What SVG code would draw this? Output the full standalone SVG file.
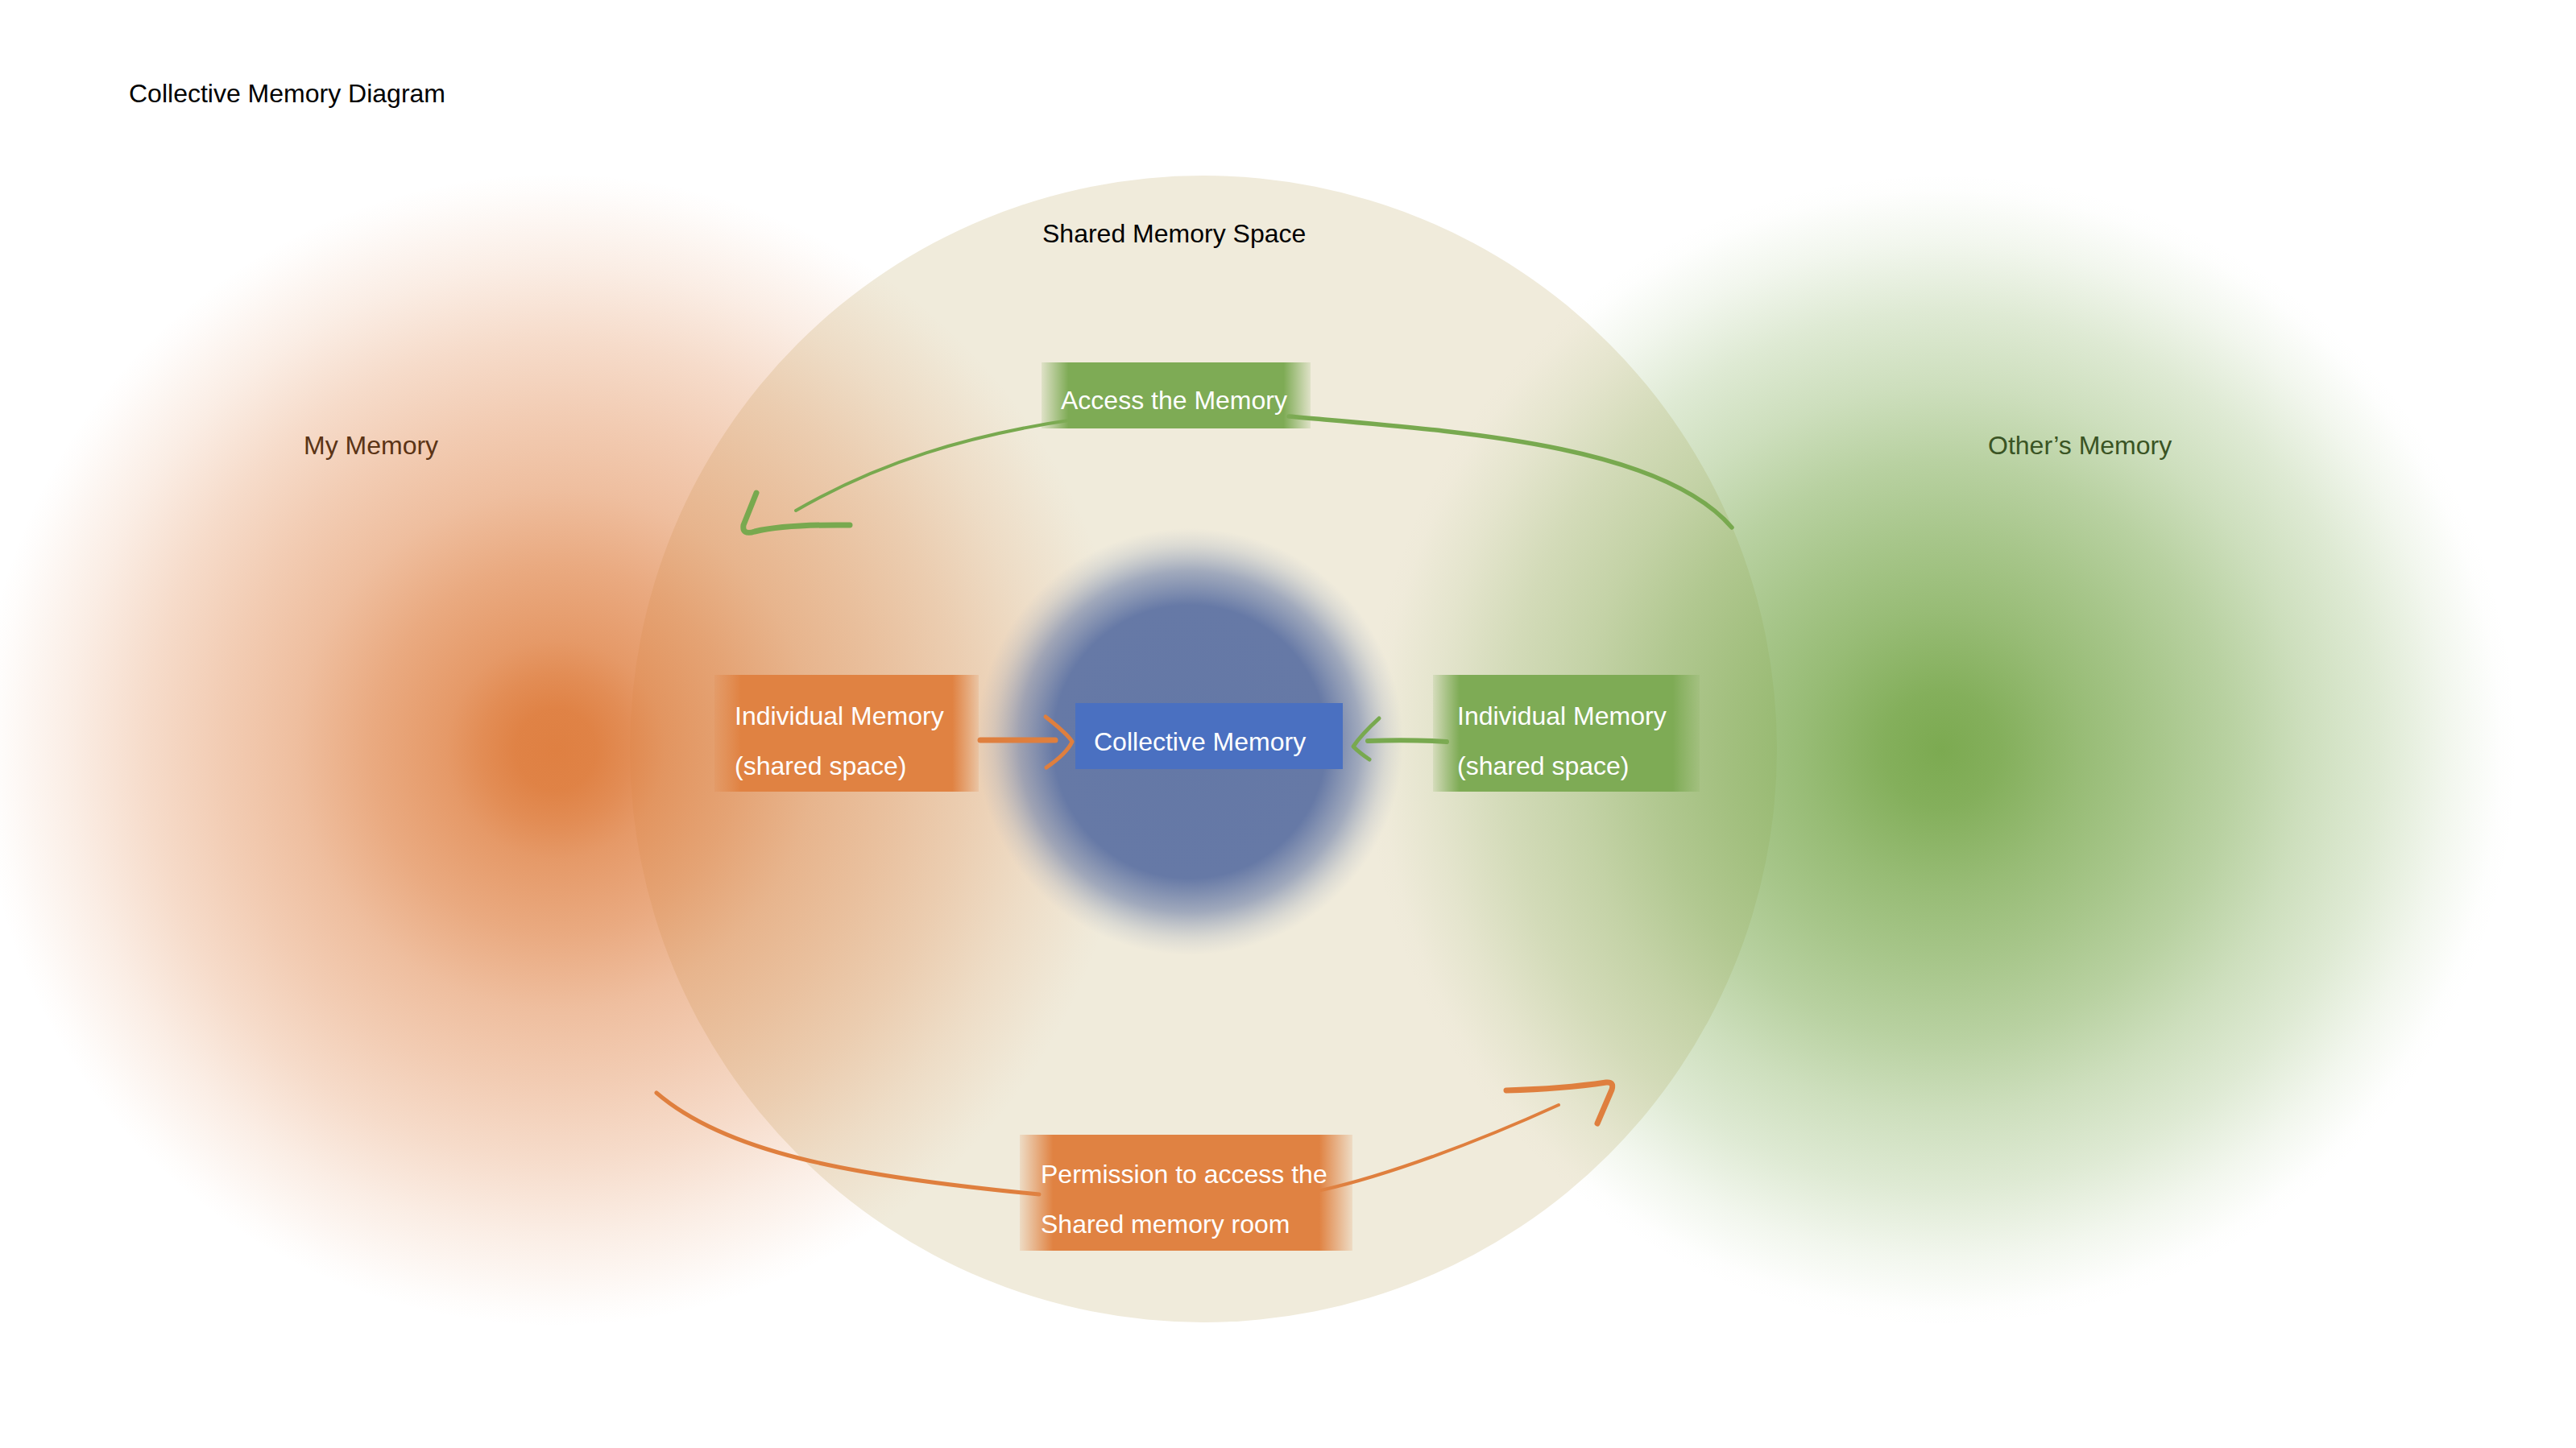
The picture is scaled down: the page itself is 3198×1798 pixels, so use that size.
<svg xmlns="http://www.w3.org/2000/svg" width="3198" height="1798" viewBox="0 0 3198 1798">
  <defs>
    <radialGradient id="gOrangeBlob" cx="0.5" cy="0.5" r="0.5">
      <stop offset="0" stop-color="#DF8042" stop-opacity="1"/>
      <stop offset="0.07" stop-color="#DF8042" stop-opacity="0.98"/>
      <stop offset="0.13" stop-color="#DF8042" stop-opacity="0.9"/>
      <stop offset="0.19" stop-color="#DF8042" stop-opacity="0.8"/>
      <stop offset="0.32" stop-color="#DF8042" stop-opacity="0.67"/>
      <stop offset="0.45" stop-color="#DF8042" stop-opacity="0.51"/>
      <stop offset="0.58" stop-color="#DF8042" stop-opacity="0.4"/>
      <stop offset="0.71" stop-color="#DF8042" stop-opacity="0.28"/>
      <stop offset="0.84" stop-color="#DF8042" stop-opacity="0.14"/>
      <stop offset="0.97" stop-color="#DF8042" stop-opacity="0.02"/>
      <stop offset="1" stop-color="#DF8042" stop-opacity="0"/>
    </radialGradient>
    <radialGradient id="gGreenBlob" cx="0.5" cy="0.5" r="0.5">
      <stop offset="0" stop-color="#7CAA51" stop-opacity="1"/>
      <stop offset="0.1" stop-color="#7CAA51" stop-opacity="0.94"/>
      <stop offset="0.24" stop-color="#7CAA51" stop-opacity="0.79"/>
      <stop offset="0.37" stop-color="#7CAA51" stop-opacity="0.67"/>
      <stop offset="0.5" stop-color="#7CAA51" stop-opacity="0.54"/>
      <stop offset="0.63" stop-color="#7CAA51" stop-opacity="0.38"/>
      <stop offset="0.76" stop-color="#7CAA51" stop-opacity="0.25"/>
      <stop offset="0.88" stop-color="#7CAA51" stop-opacity="0.1"/>
      <stop offset="0.97" stop-color="#7CAA51" stop-opacity="0.01"/>
      <stop offset="1" stop-color="#7CAA51" stop-opacity="0"/>
    </radialGradient>
    <radialGradient id="gBlueBlob" cx="0.5" cy="0.5" r="0.5">
      <stop offset="0" stop-color="#6478A6" stop-opacity="1"/>
      <stop offset="0.64" stop-color="#6679A6" stop-opacity="1"/>
      <stop offset="0.8" stop-color="#6C7EA8" stop-opacity="0.6"/>
      <stop offset="0.92" stop-color="#8393B2" stop-opacity="0.2"/>
      <stop offset="1" stop-color="#95A2BC" stop-opacity="0"/>
    </radialGradient>
    <linearGradient id="gOrangeBox" x1="0" y1="0" x2="1" y2="0">
      <stop offset="0" stop-color="#E08242" stop-opacity="0.15"/>
      <stop offset="0.1" stop-color="#E08242" stop-opacity="1"/>
      <stop offset="0.9" stop-color="#E08242" stop-opacity="1"/>
      <stop offset="1" stop-color="#E08242" stop-opacity="0.15"/>
    </linearGradient>
    <linearGradient id="gGreenBox" x1="0" y1="0" x2="1" y2="0">
      <stop offset="0" stop-color="#7EAB55" stop-opacity="0.15"/>
      <stop offset="0.1" stop-color="#7EAB55" stop-opacity="1"/>
      <stop offset="0.9" stop-color="#7EAB55" stop-opacity="1"/>
      <stop offset="1" stop-color="#7EAB55" stop-opacity="0.15"/>
    </linearGradient>
  </defs>
  <style>
    text { font-family: "Liberation Sans", Arial, sans-serif; font-size: 32px; }
    .dark { fill: #000000; }
    .white { fill: #FFFFFF; }
    .brown { fill: #5B3416; }
    .dgreen { fill: #3A5424; }
    .conn { fill: none; stroke-linecap: round; stroke-linejoin: round; }
    .og { stroke: #DF7F3E; }
    .gr { stroke: #78A94F; }
  </style>

  <rect x="0" y="0" width="3198" height="1798" fill="#FFFFFF"/>

  <g id="title">
    <text class="dark" x="160" y="127">Collective Memory Diagram</text>
  </g>

  <g id="shared-memory-space">
    <circle cx="1494" cy="930" r="712" fill="#F0EBDB"/>
  </g>

  <g id="my-memory">
    <circle cx="690" cy="931" r="716" fill="url(#gOrangeBlob)"/>
    <text class="brown" x="377" y="564">My Memory</text>
  </g>

  <g id="others-memory">
    <circle cx="2410" cy="931" r="716" fill="url(#gGreenBlob)"/>
    <text class="dgreen" x="2468" y="564">Other’s Memory</text>
  </g>

  <g id="shared-memory-space-label">
    <text class="dark" x="1294" y="301">Shared Memory Space</text>
  </g>

  <g id="collective-glow">
    <circle cx="1477" cy="921" r="265" fill="url(#gBlueBlob)"/>
  </g>

  <g id="connectors">
    <!-- Access the Memory arc (green), from Other's Memory to My Memory -->
    <path class="conn gr" stroke-width="5.5" d="M 2150 655 C 2060 550 1800 535 1600 517"/>
    <path class="conn gr" stroke-width="4" d="M 1340 520 C 1200 540 1090 575 988 634"/>
    <path class="conn gr" stroke-width="7" d="M 939 612 L 923 652 Q 921 665 937 660 Q 975 651 1055 652"/>
    <!-- Permission arc (orange), from My Memory to Other's Memory -->
    <path class="conn og" stroke-width="5" d="M 815 1357 C 900 1430 1050 1460 1290 1483"/>
    <path class="conn og" stroke-width="4" d="M 1640 1478 C 1720 1460 1830 1420 1935 1372"/>
    <path class="conn og" stroke-width="7" d="M 1870 1354 Q 1940 1352 1994 1344 Q 2004 1343 2001 1353 L 1983 1395"/>
    <!-- Individual (mine) to Collective -->
    <path class="conn og" stroke-width="7" d="M 1217 919 L 1310 919"/>
    <path class="conn og" stroke-width="5" d="M 1298 890 Q 1326 912 1331 921 Q 1324 936 1299 953"/>
    <!-- Individual (others) to Collective -->
    <path class="conn gr" stroke-width="6" d="M 1796 921 Q 1750 918 1698 920"/>
    <path class="conn gr" stroke-width="5" d="M 1712 892 Q 1690 912 1680 927 Q 1688 935 1700 943"/>
  </g>

  <g id="collective-memory">
    <rect x="1335" y="873" width="332" height="82" fill="#4A70C1"/>
    <text class="white" x="1358" y="932">Collective Memory</text>
  </g>

  <g id="individual-memory-mine">
    <rect x="887" y="838" width="328" height="145" fill="url(#gOrangeBox)"/>
    <text class="white" x="912" y="900">Individual Memory</text>
    <text class="white" x="912" y="962">(shared space)</text>
  </g>

  <g id="individual-memory-others">
    <rect x="1779" y="838" width="331" height="145" fill="url(#gGreenBox)"/>
    <text class="white" x="1809" y="900">Individual Memory</text>
    <text class="white" x="1809" y="962">(shared space)</text>
  </g>

  <g id="access-the-memory">
    <rect x="1293" y="450" width="334" height="82" fill="url(#gGreenBox)"/>
    <text class="white" x="1317" y="508">Access the Memory</text>
  </g>

  <g id="permission">
    <rect x="1266" y="1409" width="413" height="144" fill="url(#gOrangeBox)"/>
    <text class="white" x="1292" y="1469">Permission to access the</text>
    <text class="white" x="1292" y="1531">Shared memory room</text>
  </g>
</svg>
